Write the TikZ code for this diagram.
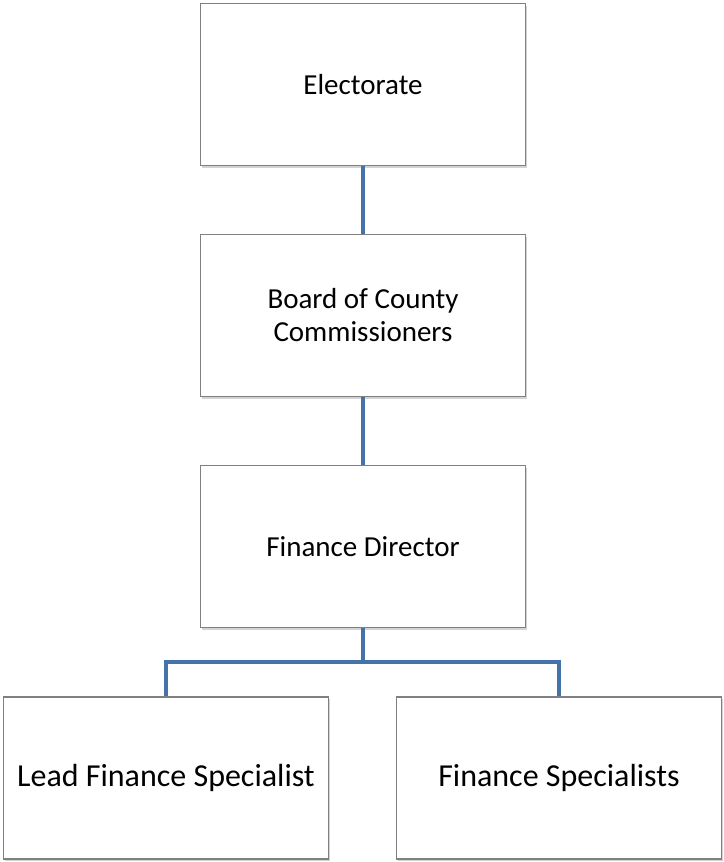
\documentclass[tikz,border=0pt]{standalone}
\usepackage{fontspec}
\setmainfont{Carlito}
\usepackage{tikz}
\usetikzlibrary{shadows}

\definecolor{linkblue}{RGB}{70,114,170}
\definecolor{boxgray}{RGB}{128,128,128}

\begin{document}
\begin{tikzpicture}[x=1pt,y=-1pt,
  orgbox/.style={draw=boxgray,line width=1.2pt,fill=white,minimum width=325pt,minimum height=162pt,
    align=center,inner sep=0pt,font=\fontsize{29}{33}\selectfont,
    drop shadow={opacity=0.35,shadow xshift=1.5pt,shadow yshift=-2pt}},
  link/.style={linkblue,line width=4pt}]
\useasboundingbox (0,0) rectangle (723,862);
% connectors first, boxes on top
\coordinate (split) at (363,662);
\node[orgbox] (elect) at (363,84.5) {Electorate};
\node[orgbox] (board) at (363,315.5) {Board of County\\Commissioners};
\node[orgbox] (fd) at (363,546.5) {Finance Director};
\node[orgbox,font=\fontsize{32}{36}\selectfont] (lead) at (166,778) {Lead Finance Specialist};
\node[orgbox,font=\fontsize{32}{36}\selectfont] (fs) at (559,778) {Finance Specialists};
\draw[link] (elect) -- (board);
\draw[link] (board) -- (fd);
\draw[link] (fd) -- (split) -| (lead);
\draw[link] (split) -| (fs);
\end{tikzpicture}
\end{document}
